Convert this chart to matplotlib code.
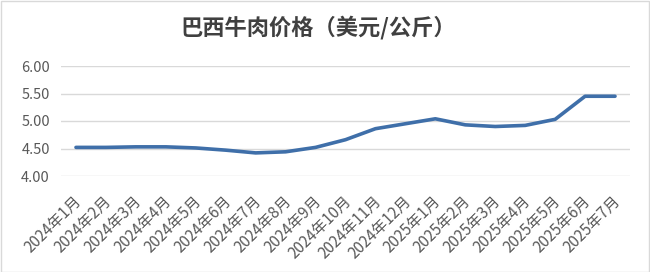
import matplotlib
matplotlib.use("Agg")
import matplotlib.pyplot as plt
from matplotlib.patches import Rectangle
import matplotlib.transforms as mtransforms

plt.rcParams['font.family'] = ['Noto Sans CJK SC', 'DejaVu Sans']

# Data
months = ['2024年1月', '2024年2月', '2024年3月', '2024年4月', '2024年5月',
          '2024年6月', '2024年7月', '2024年8月', '2024年9月', '2024年10月',
          '2024年11月', '2024年12月', '2025年1月', '2025年2月', '2025年3月',
          '2025年4月', '2025年5月', '2025年6月', '2025年7月']
price = [4.52, 4.52, 4.53, 4.53, 4.51, 4.47, 4.42, 4.44, 4.52, 4.66,
         4.86, 4.95, 5.04, 4.93, 4.90, 4.92, 5.03, 5.45, 5.45]
y_ticks = [4.00, 4.50, 5.00, 5.50, 6.00]

fig = plt.figure(figsize=(6.5, 2.72), dpi=100)
ax = fig.add_axes([61 / 650, 1 - 176 / 272, 569 / 650, 110 / 272])

x = list(range(len(months)))
ax.plot(x, price, color='#3F6FA9', linewidth=2.6, solid_capstyle='round',
        solid_joinstyle='round', zorder=3)

ax.set_xlim(-0.5, len(months) - 0.5)
ax.set_ylim(4.0, 6.0)
ax.set_yticks(y_ticks)
ax.set_yticklabels([f'{v:.2f}' for v in y_ticks])
ax.grid(axis='y', color='#D9D9D9', linewidth=1)
ax.set_axisbelow(True)
for s in ax.spines.values():
    s.set_visible(False)

ax.set_xticks(x)
ax.set_xticklabels(months, rotation=45, ha='right', va='center',
                   rotation_mode='anchor', fontsize=11, color='#595959')
ax.tick_params(axis='both', length=0)
ax.tick_params(axis='x', pad=16)
ax.tick_params(axis='y', labelsize=10.5, labelcolor='#595959', pad=8)
offset = mtransforms.ScaledTranslation(3 / 100, 0, fig.dpi_scale_trans)
for lab in ax.get_xticklabels():
    lab.set_transform(lab.get_transform() + offset)

fig.text(0.49, 1 - 28 / 272, '巴西牛肉价格（美元/公斤）', ha='center', va='center',
         fontsize=16, fontweight='bold', color='#404040')

# light border around the chart area
fig.patches.append(Rectangle((0.5 / 650, 0.5 / 272), 1 - 1.5 / 650, 1 - 1.5 / 272,
                             transform=fig.transFigure, fill=False,
                             edgecolor='#D9D9D9', linewidth=1))

fig.savefig('out.png', dpi=100)
